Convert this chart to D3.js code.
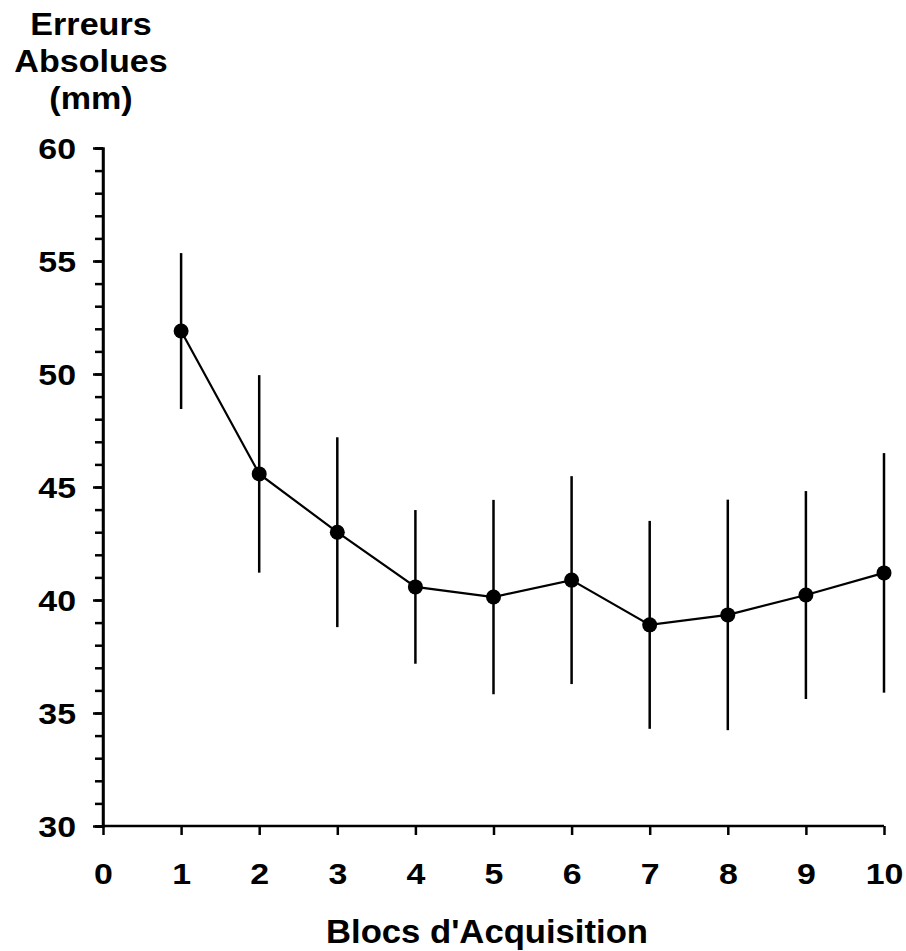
<!DOCTYPE html>
<html>
<head>
<meta charset="utf-8">
<script src="https://cdn.jsdelivr.net/npm/d3@7"></script>
<style>
  body { margin: 0; background: #fff; }
  text { font-family: "Liberation Sans", Arial, sans-serif; font-weight: bold; fill: #000; }
</style>
</head>
<body>
<div class="chart"></div>
<script>
var svgWidth = 906;
var svgHeight = 951;

// data
var blocs = [1, 2, 3, 4, 5, 6, 7, 8, 9, 10];
var erreurs = [51.9, 45.58, 43.0, 40.58, 40.13, 40.88, 38.9, 39.34, 40.22, 41.2];
var ecarts = [3.45, 4.37, 4.2, 3.4, 4.3, 4.6, 4.6, 5.1, 4.6, 5.3];
var yTicks = [30, 35, 40, 45, 50, 55, 60];
var xTicks = [0, 1, 2, 3, 4, 5, 6, 7, 8, 9, 10];
var titleLines = ["Erreurs", "Absolues", "(mm)"];

var margin = { top: 148, right: 22, bottom: 125, left: 103 };
var width = svgWidth - margin.left - margin.right;
var height = svgHeight - margin.top - margin.bottom;

// the original lettering is a bit wider than Arial
var stretch = 1.13;

var svg = d3.select(".chart")
  .append("svg")
  .attr("width", svgWidth)
  .attr("height", svgHeight);

var chartGroup = svg.append("g")
  .attr("transform", `translate(${margin.left}, ${margin.top})`);

var xScale = d3.scaleLinear().domain([0, 10]).range([0, width]);
var yScale = d3.scaleLinear().domain([30, 60]).range([height, 0]);

// minor y ticks (every unit)
var minorAxis = d3.axisLeft(yScale)
  .tickValues(d3.range(30, 61, 1))
  .tickSize(8)
  .tickFormat("");
chartGroup.append("g").call(minorAxis);

// major y ticks
var leftAxis = d3.axisLeft(yScale)
  .tickValues(yTicks)
  .tickSize(10)
  .tickFormat(d3.format("d"));
var yAxisG = chartGroup.append("g").call(leftAxis);

var bottomAxis = d3.axisBottom(xScale)
  .tickValues(xTicks)
  .tickSize(9)
  .tickFormat(d3.format("d"));
var xAxisG = chartGroup.append("g")
  .attr("transform", `translate(0, ${height})`)
  .call(bottomAxis);

chartGroup.selectAll(".domain, .tick line")
  .attr("stroke", "#000")
  .attr("stroke-width", 2.5);
yAxisG.select(".domain").attr("d", `M0,${height}V0`);
xAxisG.select(".domain").attr("d", `M0,0H${width}`);

chartGroup.selectAll(".tick text")
  .style("font-size", "30px")
  .style("font-family", "'Liberation Sans', Arial, sans-serif")
  .style("font-weight", "bold")
  .attr("fill", "#000");
yAxisG.selectAll(".tick text")
  .attr("x", -27 / stretch)
  .attr("dy", "0.36em")
  .attr("transform", `scale(${stretch},1)`);
xAxisG.selectAll(".tick text")
  .attr("y", 58)
  .attr("dy", 0)
  .attr("transform", `scale(${stretch},1)`);

// error bars
chartGroup.selectAll(".errbar")
  .data(blocs)
  .enter()
  .append("line")
  .attr("class", "errbar")
  .attr("x1", d => xScale(d))
  .attr("x2", d => xScale(d))
  .attr("y1", (d, i) => yScale(erreurs[i] + ecarts[i]))
  .attr("y2", (d, i) => yScale(erreurs[i] - ecarts[i]))
  .attr("stroke", "#000")
  .attr("stroke-width", 2.5);

// mean line
var line = d3.line()
  .x(d => xScale(d))
  .y((d, i) => yScale(erreurs[i]));
chartGroup.append("path")
  .datum(blocs)
  .attr("d", line)
  .attr("fill", "none")
  .attr("stroke", "#000")
  .attr("stroke-width", 2.2);

chartGroup.selectAll(".pt")
  .data(blocs)
  .enter()
  .append("circle")
  .attr("class", "pt")
  .attr("cx", d => xScale(d))
  .attr("cy", (d, i) => yScale(erreurs[i]))
  .attr("r", 7.5)
  .attr("fill", "#000");

// y axis title
svg.selectAll(".ytitle")
  .data(titleLines)
  .enter()
  .append("text")
  .attr("class", "ytitle")
  .attr("transform", (d, i) => `translate(91, ${35 + i * 37}) scale(1.1,1)`)
  .attr("text-anchor", "middle")
  .style("font-size", "31px")
  .text(d => d);

// x axis title
svg.append("text")
  .attr("transform", `translate(487, 943) scale(1.05,1)`)
  .attr("text-anchor", "middle")
  .style("font-size", "33px")
  .text("Blocs d'Acquisition");
</script>
</body>
</html>
